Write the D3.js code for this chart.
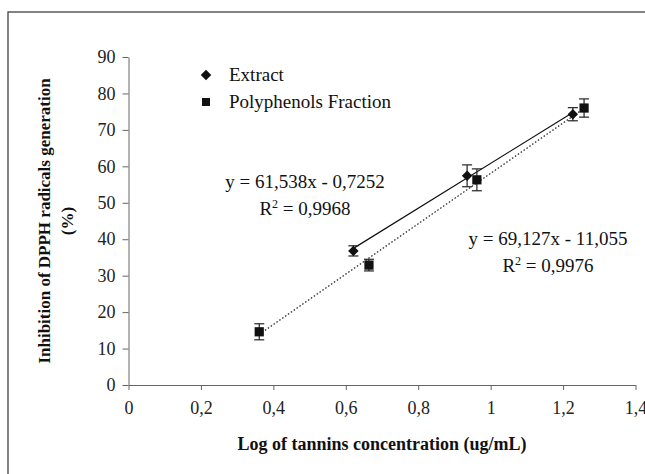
<!DOCTYPE html>
<html>
<head>
  <meta charset="utf-8">
  <title>DPPH</title>
  <style>
    body { margin: 0; background: #fff; }
    svg text { font-family: "Liberation Serif", "Times New Roman", "DejaVu Serif", serif; fill: #111; }
    .axis path, .axis line { stroke: #666; }
    .axis text { font-size: 18px; fill: #222; }
  </style>
</head>
<body>
  <svg width="645" height="474"></svg>
  <script src="https://cdnjs.cloudflare.com/ajax/libs/d3/7.8.5/d3.min.js"></script>
  <script>
    // data
    let extractX = [0.621, 0.935, 1.227];
    let extractY = [36.8, 57.4, 74.3];
    let extractErr = [1.4, 3.0, 1.8];
    let polyX = [0.361, 0.664, 0.962, 1.258];
    let polyY = [14.6, 32.9, 56.3, 76.0];
    let polyErr = [2.2, 1.6, 3.0, 2.5];
    // trendline coefficients (slope, intercept)
    let extractFit = [61.538, -0.7252];
    let polyFit = [69.127, -11.055];
    let xTicks = [0, 0.2, 0.4, 0.6, 0.8, 1, 1.2, 1.4];
    let yTicks = [0, 10, 20, 30, 40, 50, 60, 70, 80, 90];

    let svg = d3.select('svg');
    let margin = {left: 128.5, right: 9.5, top: 57, bottom: 89};
    let width = 645, height = 474;
    let serif = '"Liberation Serif", "Times New Roman", serif';

    // outer frame
    svg.append('rect')
       .attr('x', 8).attr('y', 12)
       .attr('width', 660).attr('height', 500)
       .attr('fill', 'none').attr('stroke', '#333').attr('stroke-width', 1.2);

    let xScale = d3.scaleLinear().domain([0, 1.4]).range([margin.left, width - margin.right]);
    let yScale = d3.scaleLinear().domain([0, 90]).range([height - margin.bottom, margin.top]);
    let fmt = d => String(d).replace('.', ',');

    svg.append('g')
       .attr('class', 'axis')
       .attr('transform', 'translate(0,' + yScale(0) + ')')
       .call(d3.axisBottom(xScale).tickValues(xTicks).tickFormat(fmt).tickSize(5).tickSizeOuter(0).tickPadding(11))
       .attr('font-family', serif);

    svg.append('g')
       .attr('class', 'axis')
       .attr('transform', 'translate(' + xScale(0) + ',0)')
       .call(d3.axisLeft(yScale).tickValues(yTicks).tickFormat(fmt).tickSize(6).tickSizeOuter(0).tickPadding(7))
       .attr('font-family', serif)
       .call(g => g.select('.domain').attr('stroke', '#333'));

    // trendlines
    function fitLine(xs, fit) {
      let x0 = d3.min(xs), x1 = d3.max(xs);
      return [[x0, fit[0] * x0 + fit[1]], [x1, fit[0] * x1 + fit[1]]];
    }
    let line = d3.line().x(d => xScale(d[0])).y(d => yScale(d[1]));
    svg.append('path')
       .attr('d', line(fitLine(extractX, extractFit)))
       .attr('stroke', '#111').attr('stroke-width', 1.2).attr('fill', 'none');
    svg.append('path')
       .attr('d', line(fitLine(polyX, polyFit)))
       .attr('stroke', '#333').attr('stroke-width', 1.3).attr('stroke-dasharray', '1.5,2').attr('fill', 'none');

    // error bars
    function errBars(xs, ys, es) {
      let g = svg.append('g').attr('stroke', '#222').attr('stroke-width', 1.2);
      xs.forEach((x, i) => {
        let cx = xScale(x), top = yScale(ys[i] + es[i]), bot = yScale(ys[i] - es[i]);
        g.append('line').attr('x1', cx).attr('x2', cx).attr('y1', top).attr('y2', bot);
        g.append('line').attr('x1', cx - 5).attr('x2', cx + 5).attr('y1', top).attr('y2', top);
        g.append('line').attr('x1', cx - 5).attr('x2', cx + 5).attr('y1', bot).attr('y2', bot);
      });
    }
    errBars(extractX, extractY, extractErr);
    errBars(polyX, polyY, polyErr);

    let diamond = d3.symbol().type(d3.symbolDiamond2).size(70);
    let square = d3.symbol().type(d3.symbolSquare).size(85);

    svg.selectAll('.ext').data(extractX).enter().append('path')
       .attr('d', diamond)
       .attr('transform', (d, i) => 'translate(' + xScale(d) + ',' + yScale(extractY[i]) + ')')
       .attr('fill', '#111');
    svg.selectAll('.poly').data(polyX).enter().append('path')
       .attr('d', square)
       .attr('transform', (d, i) => 'translate(' + xScale(d) + ',' + yScale(polyY[i]) + ')')
       .attr('fill', '#111');

    // legend
    svg.append('path').attr('d', diamond).attr('transform', 'translate(206,75)').attr('fill', '#111');
    svg.append('path').attr('d', d3.symbol().type(d3.symbolSquare).size(64)).attr('transform', 'translate(206,102)').attr('fill', '#111');
    svg.append('text').attr('x', 229).attr('y', 81).attr('font-size', 19).text('Extract');
    svg.append('text').attr('x', 229).attr('y', 108).attr('font-size', 19).text('Polyphenols Fraction');

    // equations
    function eq(x, y, a, b, r2) {
      svg.append('text').attr('x', x).attr('y', y).attr('text-anchor', 'middle').attr('font-size', 19)
         .text('y = ' + a + 'x - ' + b);
      let t = svg.append('text').attr('x', x).attr('y', y + 27).attr('text-anchor', 'middle').attr('font-size', 19);
      t.append('tspan').text('R');
      t.append('tspan').attr('dy', -7).attr('font-size', 12).text('2');
      t.append('tspan').attr('dy', 7).text(' = ' + r2);
    }
    eq(305, 188, '61,538', '0,7252', '0,9968');
    eq(548, 245, '69,127', '11,055', '0,9976');

    // axis titles
    svg.append('text')
       .attr('x', (xScale(0) + xScale(1.4)) / 2).attr('y', 450)
       .attr('text-anchor', 'middle').attr('font-size', 18).attr('font-weight', 'bold')
       .text('Log of tannins concentration (ug/mL)');
    svg.append('text')
       .attr('transform', 'translate(50,' + 221 + ') rotate(-90)')
       .attr('text-anchor', 'middle').attr('font-size', 17).attr('font-weight', 'bold')
       .text('Inhibition of DPPH radicals generation');
    svg.append('text')
       .attr('transform', 'translate(73,' + 221 + ') rotate(-90)')
       .attr('text-anchor', 'middle').attr('font-size', 17).attr('font-weight', 'bold')
       .text('(%)');
  </script>
</body>
</html>
